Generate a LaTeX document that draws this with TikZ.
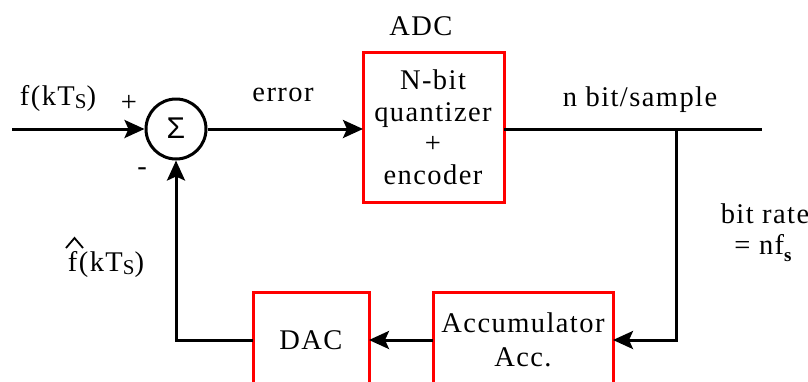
\documentclass[tikz,border=0pt]{standalone}
\usepackage{fontspec}
\setmainfont{Liberation Serif}
\newfontfamily\sigmafont{Liberation Sans}
\newfontfamily\spaced{Liberation Serif}[LetterSpace=5]
\usetikzlibrary{arrows.meta}
\begin{document}
\begin{tikzpicture}[x=1pt,y=-1pt,
  every node/.style={font=\spaced\fontsize{28.5}{32}\selectfont, inner sep=0pt},
  redbox/.style={draw=red, line width=3pt, fill=none},
  wire/.style={line width=3pt, draw=black},
  arr/.style={wire, -{Stealth[length=20pt,width=18pt,inset=4pt]}}]
\useasboundingbox (0,0) rectangle (808,381);
\begin{scope}
\clip (0,0) rectangle (808,381);
% boxes
\draw[redbox] (363,52) rectangle (504,202);
\draw[redbox] (253,292) rectangle (369,400);
\draw[redbox] (433,292) rectangle (613,400);
\end{scope}
\node[draw, circle, line width=3pt, minimum size=60pt] (sum) at (176,129) {};
\node at (176,128) {\sigmafont\fontsize{30}{30}\selectfont Σ};
\coordinate (adcL) at (363,129);
\coordinate (adcR) at (504,129);
\coordinate (inS) at (12,129);
\coordinate (outE) at (762,129);
\coordinate (br) at (676,129);
\coordinate (brc) at (676,340);
\coordinate (accR) at (613,340);
\coordinate (accL) at (433,340);
\coordinate (dacR) at (369,340);
\coordinate (dacL) at (253,340);
\coordinate (fbc) at (176,340);
% texts
\node (adcTxt) at (433,127) [align=center, font=\spaced\fontsize{28.5}{31.5}\selectfont] {N-bit\\quantizer\\+\\encoder};
\node (dacTxt) at (311,340) {DAC};
\node (accTxt) at (523,340) [align=center, font=\spaced\fontsize{28.5}{34}\selectfont] {Accumulator\\Acc.};
\node (adc) at (421,26) {ADC};
\node (err) at (283,95) {error};
\node (nbit) at (640,100) {n bit/sample};
\node (brate) at (765,214) {bit rate};
\node (nfs) at (763,248) {= nf\raisebox{-0.25em}{\fontsize{19}{19}\selectfont\bfseries s}};
\node (fin) at (58,98) {f(kT\raisebox{-0.12em}{\fontsize{21}{21}\selectfont S})};
\node (fhat) at (106,264) {f(kT\raisebox{-0.12em}{\fontsize{21}{21}\selectfont S})};
\draw[line width=1.8pt] (66,248) -- (74.5,238) -- (83,248);
\node (plus) at (129,103) {+};
\node (minus) at (142,172) {-};
% connectors
\draw[arr] (inS) -- (sum.west);
\draw[arr] (sum.east) -- (adcL);
\draw[wire] (adcR) -- (outE);
\draw[arr] (br) -- (brc) -- (accR);
\draw[arr] (accL) -- (dacR);
\draw[arr] (dacL) -- (fbc) -- (sum.south);
\end{tikzpicture}
\end{document}
